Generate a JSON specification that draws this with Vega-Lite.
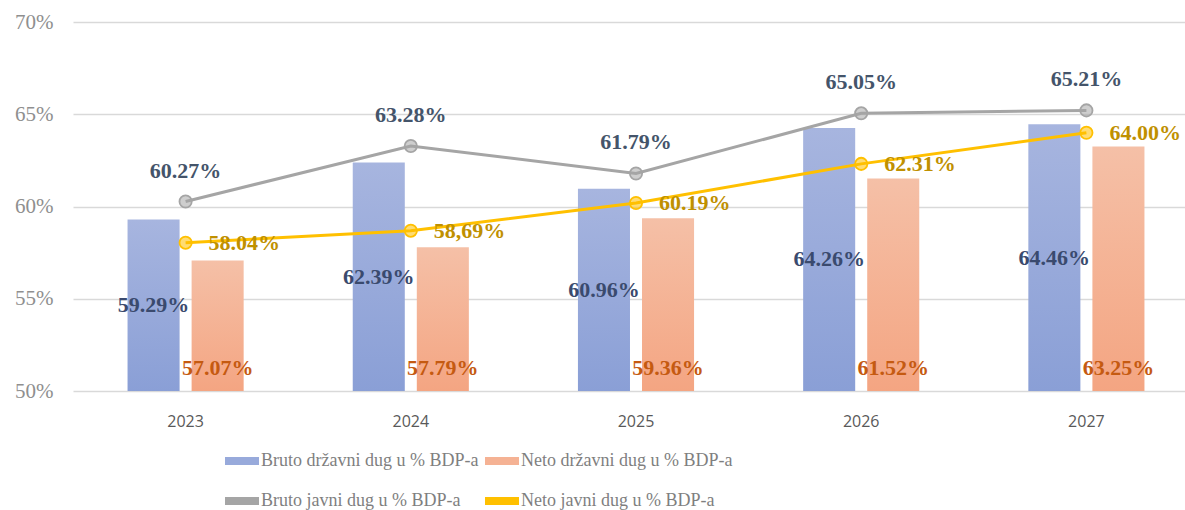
{
  "$schema": "https://vega.github.io/schema/vega-lite/v6.json",
  "autosize": "none",
  "width": 1126,
  "height": 369,
  "padding": {"left": 73, "top": 22, "right": 0, "bottom": 119},
  "background": "white",
  "config": {"view": {"stroke": null}},
  "data": {
    "values": [
      {"year": "2023", "series": "Bruto državni dug u % BDP-a", "kind": "bar", "value": 59.29, "label": "59.29%"},
      {"year": "2024", "series": "Bruto državni dug u % BDP-a", "kind": "bar", "value": 62.39, "label": "62.39%"},
      {"year": "2025", "series": "Bruto državni dug u % BDP-a", "kind": "bar", "value": 60.96, "label": "60.96%"},
      {"year": "2026", "series": "Bruto državni dug u % BDP-a", "kind": "bar", "value": 64.26, "label": "64.26%"},
      {"year": "2027", "series": "Bruto državni dug u % BDP-a", "kind": "bar", "value": 64.46, "label": "64.46%"},
      {"year": "2023", "series": "Neto državni dug u % BDP-a", "kind": "bar", "value": 57.07, "label": "57.07%"},
      {"year": "2024", "series": "Neto državni dug u % BDP-a", "kind": "bar", "value": 57.79, "label": "57.79%"},
      {"year": "2025", "series": "Neto državni dug u % BDP-a", "kind": "bar", "value": 59.36, "label": "59.36%"},
      {"year": "2026", "series": "Neto državni dug u % BDP-a", "kind": "bar", "value": 61.52, "label": "61.52%"},
      {"year": "2027", "series": "Neto državni dug u % BDP-a", "kind": "bar", "value": 63.25, "label": "63.25%"},
      {"year": "2023", "series": "Bruto javni dug u % BDP-a", "kind": "line", "value": 60.27, "label": "60.27%"},
      {"year": "2024", "series": "Bruto javni dug u % BDP-a", "kind": "line", "value": 63.28, "label": "63.28%"},
      {"year": "2025", "series": "Bruto javni dug u % BDP-a", "kind": "line", "value": 61.79, "label": "61.79%"},
      {"year": "2026", "series": "Bruto javni dug u % BDP-a", "kind": "line", "value": 65.05, "label": "65.05%"},
      {"year": "2027", "series": "Bruto javni dug u % BDP-a", "kind": "line", "value": 65.21, "label": "65.21%"},
      {"year": "2023", "series": "Neto javni dug u % BDP-a", "kind": "line", "value": 58.04, "label": "58.04%"},
      {"year": "2024", "series": "Neto javni dug u % BDP-a", "kind": "line", "value": 58.69, "label": "58,69%"},
      {"year": "2025", "series": "Neto javni dug u % BDP-a", "kind": "line", "value": 60.19, "label": "60.19%"},
      {"year": "2026", "series": "Neto javni dug u % BDP-a", "kind": "line", "value": 62.31, "label": "62.31%"},
      {"year": "2027", "series": "Neto javni dug u % BDP-a", "kind": "line", "value": 64.00, "label": "64.00%"}
    ]
  },
  "encoding": {
    "x": {
      "field": "year",
      "type": "nominal",
      "title": null,
      "scale": {"paddingInner": 0.4844, "paddingOuter": 0.2422},
      "axis": {
        "labelAngle": 0,
        "labelFont": "Open Sans",
        "labelFontSize": 16,
        "labelColor": "#595959",
        "labelPadding": 22,
        "ticks": false,
        "domain": false
      }
    }
  },
  "layer": [
    {
      "transform": [{"filter": "datum.series == 'Bruto državni dug u % BDP-a'"}],
      "mark": {"type": "bar", "fill": {"gradient": "linear", "x1": 0, "y1": 0, "x2": 0, "y2": 1, "stops": [{"offset": 0, "color": "#a7b5df"}, {"offset": 1, "color": "#8a9fd6"}]}},
      "encoding": {
        "xOffset": {"field": "series", "type": "nominal", "scale": {"domain": ["Bruto državni dug u % BDP-a", "Neto državni dug u % BDP-a"], "paddingInner": 0.1875, "paddingOuter": 0}},
        "y": {
          "field": "value",
          "type": "quantitative",
          "title": null,
          "scale": {"domain": [50, 70], "zero": false, "nice": false},
          "axis": {
            "values": [50, 55, 60, 65, 70],
            "labelExpr": "datum.value + '%'",
            "labelFont": "Liberation Serif",
            "labelFontSize": 21,
            "labelColor": "#8f8f8f",
            "labelPadding": 20,
            "ticks": false,
            "domain": false,
            "gridColor": "#d9d9d9",
            "gridWidth": 1.5
          }
        },
        "y2": {"datum": 50}
      }
    },
    {
      "transform": [{"filter": "datum.series == 'Neto državni dug u % BDP-a'"}],
      "mark": {"type": "bar", "fill": {"gradient": "linear", "x1": 0, "y1": 0, "x2": 0, "y2": 1, "stops": [{"offset": 0, "color": "#f5c0a7"}, {"offset": 1, "color": "#f4a582"}]}},
      "encoding": {
        "xOffset": {"field": "series", "type": "nominal", "scale": {"domain": ["Bruto državni dug u % BDP-a", "Neto državni dug u % BDP-a"], "paddingInner": 0.1875, "paddingOuter": 0}},
        "y": {"field": "value", "type": "quantitative"},
        "y2": {"datum": 50}
      }
    },
    {
      "transform": [{"filter": "datum.series == 'Bruto državni dug u % BDP-a'"}, {"calculate": "(datum.value + 50) / 2", "as": "mid"}],
      "mark": {"type": "text", "font": "Liberation Serif", "fontWeight": "bold", "fontSize": 22, "color": "#3a4a6e", "baseline": "middle", "align": "center"},
      "encoding": {
        "xOffset": {"field": "series", "type": "nominal", "scale": {"domain": ["Bruto državni dug u % BDP-a", "Neto državni dug u % BDP-a"], "paddingInner": 0.1875, "paddingOuter": 0}},
        "y": {"field": "mid", "type": "quantitative"},
        "text": {"field": "label"}
      }
    },
    {
      "transform": [{"filter": "datum.series == 'Neto državni dug u % BDP-a'"}],
      "mark": {"type": "text", "font": "Liberation Serif", "fontWeight": "bold", "fontSize": 22, "color": "#c55a11", "baseline": "middle", "align": "center", "dy": -23},
      "encoding": {
        "xOffset": {"field": "series", "type": "nominal", "scale": {"domain": ["Bruto državni dug u % BDP-a", "Neto državni dug u % BDP-a"], "paddingInner": 0.1875, "paddingOuter": 0}},
        "y": {"datum": 50},
        "text": {"field": "label"}
      }
    },
    {
      "transform": [{"filter": "datum.kind == 'line'"}],
      "mark": {"type": "line", "strokeWidth": 3},
      "encoding": {
        "y": {"field": "value", "type": "quantitative"},
        "color": {
          "field": "series",
          "type": "nominal",
          "scale": {
            "domain": ["Bruto državni dug u % BDP-a", "Neto državni dug u % BDP-a", "Bruto javni dug u % BDP-a", "Neto javni dug u % BDP-a"],
            "range": ["#98aadb", "#f5b294", "#a5a5a5", "#ffc000"]
          },
          "legend": {
            "orient": "none",
            "legendX": 152,
            "legendY": 422,
            "columns": 2,
            "direction": "horizontal",
            "title": null,
            "labelFont": "Liberation Serif",
            "labelFontSize": 18,
            "labelColor": "#7f7f7f",
            "labelLimit": 0,
            "labelOffset": 2,
            "columnPadding": 6,
            "rowPadding": 14,
            "symbolType": "M-1,-0.24H1V0.24H-1Z",
            "symbolSize": 1156,
            "symbolStrokeWidth": 0,
            "symbolOpacity": 1
          }
        }
      }
    },
    {
      "transform": [{"filter": "datum.kind == 'line'"}],
      "mark": {"type": "point", "filled": true, "fillOpacity": 0.55, "size": 150, "opacity": 1},
      "encoding": {
        "y": {"field": "value", "type": "quantitative"},
        "color": {"field": "series", "type": "nominal"}
      }
    },
    {
      "transform": [{"filter": "datum.kind == 'line'"}],
      "mark": {"type": "point", "filled": false, "size": 150, "strokeWidth": 1.8, "opacity": 1},
      "encoding": {
        "y": {"field": "value", "type": "quantitative"},
        "color": {"field": "series", "type": "nominal"}
      }
    },
    {
      "transform": [{"filter": "datum.series == 'Bruto javni dug u % BDP-a'"}],
      "mark": {"type": "text", "font": "Liberation Serif", "fontWeight": "bold", "fontSize": 22, "color": "#44546a", "baseline": "middle", "align": "center", "dy": -31},
      "encoding": {
        "y": {"field": "value", "type": "quantitative"},
        "text": {"field": "label"}
      }
    },
    {
      "transform": [{"filter": "datum.series == 'Neto javni dug u % BDP-a'"}],
      "mark": {"type": "text", "font": "Liberation Serif", "fontWeight": "bold", "fontSize": 22, "color": "#bf9000", "baseline": "middle", "align": "left", "dx": 23},
      "encoding": {
        "y": {"field": "value", "type": "quantitative"},
        "text": {"field": "label"}
      }
    }
  ]
}
